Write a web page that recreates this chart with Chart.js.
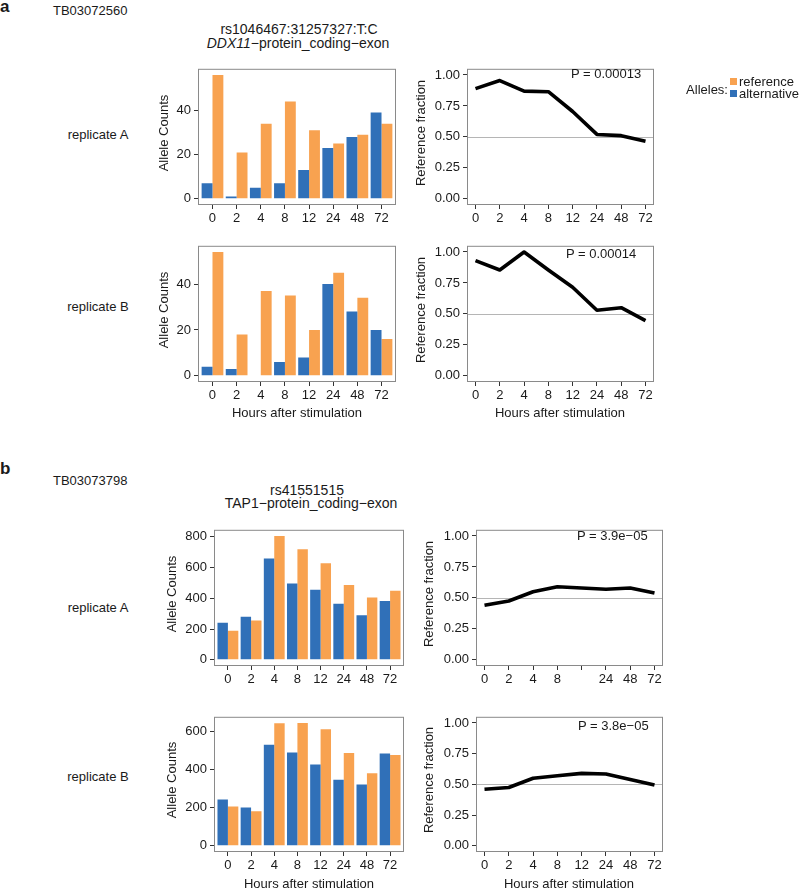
<!DOCTYPE html>
<html>
<head>
<meta charset="utf-8">
<script src="https://cdn.jsdelivr.net/npm/chart.js@4.4.1/dist/chart.umd.min.js"></script>
<style>
  body { margin: 0; background: #fff; }
  #page { position: relative; width: 800px; height: 889px; overflow: hidden;
          font-family: "Liberation Sans", Arial, Helvetica, sans-serif; color: #1a1a1a; }
  #page canvas { position: absolute; }
  .t { position: absolute; white-space: nowrap; font-size: 13px; line-height: 1; }
</style>
</head>
<body>
<div id="page"></div>
<script>
// x categories (hours after stimulation)
const hours = ['0', '2', '4', '8', '12', '24', '48', '72'];
const hoursGap12 = ['0', '2', '4', '8', '', '24', '48', '72'];

// panel a: rs1046467 / DDX11
const aRepA_ref = [56, 21, 34, 44, 31, 25, 29, 34];
const aRepA_alt = [7, 1, 5, 7, 13, 23, 28, 39];
const aRepB_ref = [54, 18, 37, 35, 20, 45, 34, 16];
const aRepB_alt = [4, 3, 0, 6, 8, 40, 28, 20];
const aRepA_frac = [0.89, 0.955, 0.87, 0.865, 0.705, 0.52, 0.51, 0.465];
const aRepB_frac = [0.93, 0.855, 1.0, 0.855, 0.715, 0.53, 0.55, 0.445];

// panel b: rs41551515 / TAP1
const bRepA_ref = [189, 255, 805, 718, 628, 486, 405, 449];
const bRepA_alt = [241, 280, 658, 496, 455, 364, 290, 383];
const bRepB_ref = [207, 182, 645, 646, 613, 488, 382, 478];
const bRepB_alt = [243, 202, 532, 491, 428, 347, 322, 486];
const bRepA_frac = [0.44, 0.475, 0.55, 0.59, 0.58, 0.57, 0.58, 0.54];
const bRepB_frac = [0.46, 0.475, 0.55, 0.57, 0.59, 0.585, 0.54, 0.495];

// tick values
const countTicksA = [0, 20, 40];
const countTicksBA = [0, 200, 400, 600, 800];
const countTicksBB = [0, 200, 400, 600];
const fracTicks = [0, 0.25, 0.5, 0.75, 1];

const ORANGE = '#F8A250';
const BLUE = '#3070B8';
const YW = 46, XH = 26, PAD = 3;

const page = document.getElementById('page');

function txt(s, x, y, o = {}) {
  const d = document.createElement('div');
  d.className = 't';
  d.innerHTML = s;
  d.style.left = x + 'px';
  d.style.top = y + 'px';
  if (o.size) d.style.fontSize = o.size + 'px';
  if (o.bold) d.style.fontWeight = 'bold';
  const ax = o.anchor === 'l' ? '0' : o.anchor === 'r' ? '-100%' : '-50%';
  d.style.transform = `translate(${ax},-50%)` + (o.rot ? ' rotate(-90deg)' : '');
  page.appendChild(d);
}

const framePlugin = {
  id: 'frame',
  beforeDatasetsDraw(chart, args, opts) {
    if (opts.refLine === undefined) return;
    const { ctx, chartArea: a, scales } = chart;
    const y = Math.round(scales.y.getPixelForValue(opts.refLine)) + 0.5;
    ctx.save();
    ctx.strokeStyle = '#b5b5b5';
    ctx.lineWidth = 1.2;
    ctx.beginPath();
    ctx.moveTo(a.left, y);
    ctx.lineTo(a.right, y);
    ctx.stroke();
    ctx.restore();
  },
  afterDraw(chart) {
    const { ctx, chartArea: a } = chart;
    ctx.save();
    ctx.strokeStyle = '#8a8a8a';
    ctx.lineWidth = 1;
    ctx.strokeRect(a.left + 0.5, a.top + 0.5, a.right - a.left - 1, a.bottom - a.top - 1);
    ctx.restore();
  }
};

function makeCanvas(box) {
  const c = document.createElement('canvas');
  const w = box.r - box.l + YW + PAD, h = box.b - box.t + PAD + XH;
  c.width = w; c.height = h;
  c.style.width = w + 'px'; c.style.height = h + 'px';
  c.style.left = (box.l - YW) + 'px';
  c.style.top = (box.t - PAD) + 'px';
  page.appendChild(c);
  return c.getContext('2d');
}

function axes(xLabels, xMin, xMax, yTicks, yMin, yMax, yFmt) {
  const tickFont = { family: '"Liberation Sans", Arial, sans-serif', size: 13 };
  const grid = { display: true, drawOnChartArea: false, drawTicks: true, tickLength: 4, color: '#333', offset: false };
  return {
    x: {
      type: 'linear', min: xMin, max: xMax, offset: false,
      grid, border: { display: false },
      afterBuildTicks: s => { s.ticks = xLabels.map((_, i) => ({ value: i + 1 })); },
      afterFit: s => { s.height = XH; },
      ticks: { font: tickFont, color: '#1a1a1a', padding: 2, maxRotation: 0, autoSkip: false,
               callback: v => xLabels[v - 1] }
    },
    y: {
      min: yMin, max: yMax,
      grid, border: { display: false },
      afterBuildTicks: s => { s.ticks = yTicks.map(v => ({ value: v })); },
      afterFit: s => { s.width = YW; },
      ticks: { font: tickFont, color: '#1a1a1a', padding: 3, callback: yFmt }
    }
  };
}

function barChart(box, ref, alt, yTicks, xLabels) {
  const top = Math.max(...ref, ...alt);
  new Chart(makeCanvas(box), {
    type: 'bar',
    data: {
      datasets: [
        { label: 'alternative', data: alt.map((v, i) => ({ x: i + 1, y: v })), backgroundColor: BLUE },
        { label: 'reference', data: ref.map((v, i) => ({ x: i + 1, y: v })), backgroundColor: ORANGE }
      ]
    },
    options: {
      responsive: false, animation: false,
      layout: { padding: { left: 0, top: PAD, right: PAD, bottom: 0 } },
      datasets: { bar: { categoryPercentage: 0.9, barPercentage: 1.0 } },
      plugins: { legend: { display: false }, tooltip: { enabled: false }, frame: {} },
      scales: axes(xLabels, 0.4, 8.6, yTicks, -0.05 * top, 1.05 * top, v => v)
    },
    plugins: [framePlugin]
  });
}

function lineChart(box, frac, xLabels) {
  new Chart(makeCanvas(box), {
    type: 'line',
    data: {
      datasets: [{
        data: frac.map((v, i) => ({ x: i + 1, y: v })),
        borderColor: '#000', borderWidth: 3.6, pointRadius: 0,
        borderJoinStyle: 'round', tension: 0
      }]
    },
    options: {
      responsive: false, animation: false,
      layout: { padding: { left: 0, top: PAD, right: PAD, bottom: 0 } },
      plugins: { legend: { display: false }, tooltip: { enabled: false }, frame: { refLine: 0.5 } },
      scales: axes(xLabels, 0.65, 8.35, fracTicks, -0.05, 1.05, v => v.toFixed(2))
    },
    plugins: [framePlugin]
  });
}

// panel a
barChart({ l: 198, t: 61, r: 396, b: 205 }, aRepA_ref, aRepA_alt, countTicksA, hours);
barChart({ l: 198, t: 238, r: 396, b: 382 }, aRepB_ref, aRepB_alt, countTicksA, hours);
lineChart({ l: 467, t: 61, r: 654, b: 205 }, aRepA_frac, hours);
lineChart({ l: 467, t: 238, r: 654, b: 382 }, aRepB_frac, hours);

// panel b
barChart({ l: 214, t: 522, r: 404, b: 666 }, bRepA_ref, bRepA_alt, countTicksBA, hours);
barChart({ l: 214, t: 709, r: 404, b: 852 }, bRepB_ref, bRepB_alt, countTicksBB, hours);
lineChart({ l: 476, t: 522, r: 663, b: 666 }, bRepA_frac, hoursGap12);
lineChart({ l: 476, t: 709, r: 663, b: 852 }, bRepB_frac, hours);

// text
txt('a', 0, 6, { size: 17, bold: true, anchor: 'l' });
txt('TB03072560', 53, 10, { anchor: 'l' });
txt('rs1046467:31257327:T:C', 299, 29, { size: 14 });
txt('<i>DDX11</i>\u2212protein_coding\u2212exon', 298, 43, { size: 14 });
txt('replicate A', 98, 134);
txt('replicate B', 98, 306);
txt('Allele Counts', 163, 133, { rot: true });
txt('Allele Counts', 163, 310, { rot: true });
txt('Reference fraction', 420, 133, { rot: true });
txt('Reference fraction', 420, 310, { rot: true });
txt('P = 0.00013', 571, 73, { anchor: 'l' });
txt('P = 0.00014', 566, 253, { anchor: 'l' });
txt('Hours after stimulation', 297, 412);
txt('Hours after stimulation', 560, 412);

txt('Alleles:', 728, 89, { anchor: 'r' });
[[ORANGE, 78], [BLUE, 90]].forEach(([c, y]) => {
  const s = document.createElement('div');
  s.style.cssText = `position:absolute;left:730px;top:${y}px;width:7px;height:7px;background:${c}`;
  page.appendChild(s);
});
txt('reference', 739, 81, { anchor: 'l' });
txt('alternative', 739, 93, { anchor: 'l' });

txt('b', 0, 468, { size: 17, bold: true, anchor: 'l' });
txt('TB03073798', 53, 480, { anchor: 'l' });
txt('rs41551515', 307, 490, { size: 14 });
txt('TAP1\u2212protein_coding\u2212exon', 311, 503, { size: 14 });
txt('replicate A', 98, 607);
txt('replicate B', 98, 776);
txt('Allele Counts', 171, 594, { rot: true });
txt('Allele Counts', 171, 780, { rot: true });
txt('Reference fraction', 428, 594, { rot: true });
txt('Reference fraction', 428, 780, { rot: true });
txt('P = 3.9e\u221205', 577, 535, { anchor: 'l' });
txt('P = 3.8e\u221205', 578, 725, { anchor: 'l' });
txt('Hours after stimulation', 309, 883);
txt('Hours after stimulation', 569, 883);
</script>
</body>
</html>
